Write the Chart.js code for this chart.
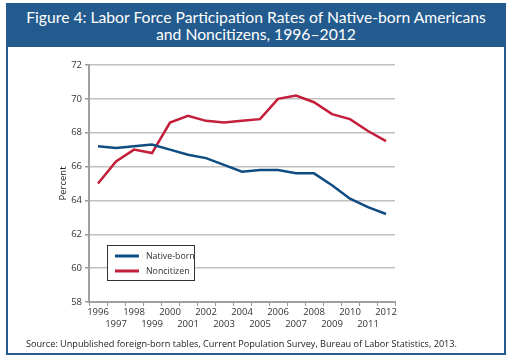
<!DOCTYPE html>
<html><head><meta charset="utf-8">
<script src="https://cdn.jsdelivr.net/npm/chart.js@4"></script>
<style>
html,body{margin:0;padding:0;background:#fff;width:512px;height:361px;overflow:hidden;}
#frame{position:absolute;left:6px;top:3px;width:500px;height:352px;border:2px solid #245b8e;box-sizing:border-box;}
#band{position:absolute;left:6px;top:3px;width:500px;height:44px;background:#245b8e;color:#fff;text-align:center;font-family:Lato,sans-serif;font-size:15.7px;line-height:16.5px;padding-top:6px;box-sizing:border-box;}
#src{position:absolute;left:26px;top:337px;font-family:'Open Sans',sans-serif;font-size:9.15px;color:#222;white-space:nowrap;}
#c{position:absolute;left:0;top:0;}
</style></head>
<body>
<div id="frame"></div>
<div id="band">Figure 4: Labor Force Participation Rates of Native-born Americans<br>and Noncitizens, 1996–2012</div>
<canvas id="c" width="512" height="361"></canvas>
<div id="src">Source: Unpublished foreign-born tables, Current Population Survey, Bureau of Labor Statistics, 2013.</div>
<script>
const years = ['1996','1997','1998','1999','2000','2001','2002','2003','2004','2005','2006','2007','2008','2009','2010','2011','2012'];
const nativeBorn = [67.2,67.1,67.2,67.3,67.0,66.7,66.5,66.1,65.7,65.8,65.8,65.6,65.6,64.9,64.1,63.6,63.2];
const noncitizen = [65.0,66.3,67.0,66.8,68.6,69.0,68.7,68.6,68.7,68.8,70.0,70.2,69.8,69.1,68.8,68.1,67.5];
const yTicks = [58,60,62,64,66,68,70,72];
const BLUE = '#0f4c81', RED = '#c41e3a';

const legendBox = {
  id: 'legendBox',
  afterDraw(chart) {
    const ctx = chart.ctx;
    ctx.save();
    ctx.fillStyle = '#fff';
    ctx.fillRect(107.5, 245.5, 87, 35);
    ctx.strokeStyle = '#333';
    ctx.lineWidth = 1;
    ctx.strokeRect(107.5, 245.5, 87, 35);
    chart.data.datasets.forEach((ds, i) => {
      const y = 256 + i * 15;
      ctx.strokeStyle = ds.borderColor;
      ctx.lineWidth = 3;
      ctx.beginPath(); ctx.moveTo(115, y); ctx.lineTo(139, y); ctx.stroke();
      ctx.fillStyle = '#333';
      ctx.font = '8.8px "Open Sans", sans-serif';
      ctx.textBaseline = 'middle';
      ctx.fillText(ds.label, 146, y);
    });
    ctx.restore();
  }
};

new Chart(document.getElementById('c'), {
  type: 'line',
  data: {
    labels: years.map((y, i) => i % 2 === 0 ? [y, ''] : ['', y]),
    datasets: [
      { label: 'Native-born', data: nativeBorn, borderColor: BLUE, backgroundColor: BLUE, borderWidth: 2.5, pointRadius: 0, tension: 0 },
      { label: 'Noncitizen', data: noncitizen, borderColor: RED, backgroundColor: RED, borderWidth: 2.5, pointRadius: 0, tension: 0 }
    ]
  },
  options: {
    responsive: false,
    animation: false,
    devicePixelRatio: 1,
    layout: { padding: { left: 58, right: 117, top: 65, bottom: 29 } },
    plugins: { legend: { display: false }, tooltip: { enabled: false }, title: { display: false } },
    scales: {
      x: {
        offset: true,
        grid: { offset: true, drawOnChartArea: false, drawTicks: true, tickLength: 4, color: '#999', lineWidth: 1 },
        border: { color: '#a0a0a0', width: 2 },
        ticks: { color: '#333', font: { family: '"Open Sans", sans-serif', size: 9.5 }, maxRotation: 0, autoSkip: false, padding: 1 },
        afterFit(s) { s.height = 30; }
      },
      y: {
        min: 58, max: 72,
        afterBuildTicks(s) { s.ticks = yTicks.map(v => ({ value: v })); },
        grid: { color: '#c0c0c0', lineWidth: 1.5, tickLength: 4, tickColor: '#999' },
        border: { color: '#a0a0a0', width: 2 },
        ticks: { color: '#333', font: { family: '"Open Sans", sans-serif', size: 9.5 }, padding: 3 },
        title: { display: true, text: 'Percent', color: '#222', font: { family: '"Open Sans", sans-serif', size: 9.5 }, padding: 0 },
        afterFit(s) { s.width = 31; }
      }
    }
  },
  plugins: [legendBox]
});
</script>
</body></html>
